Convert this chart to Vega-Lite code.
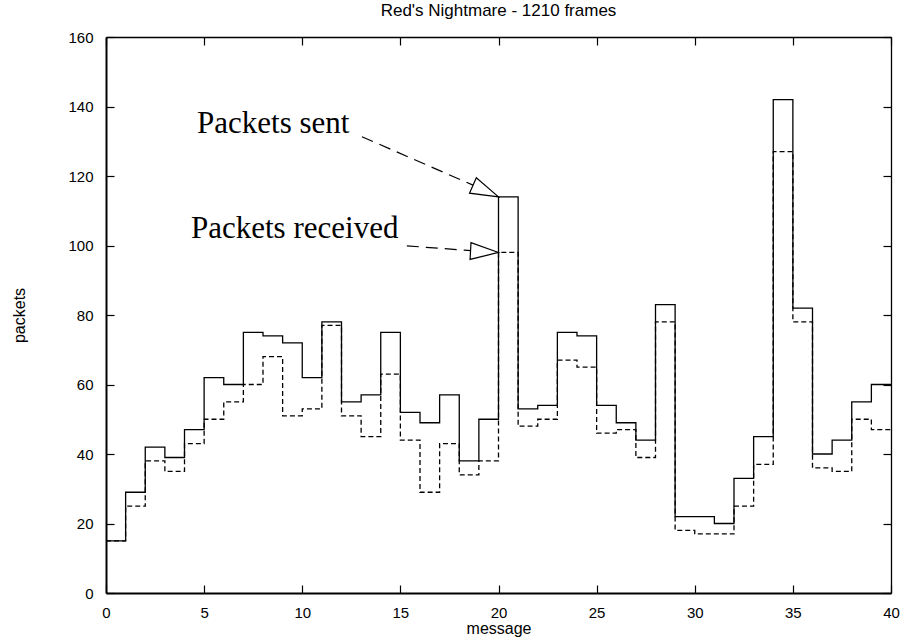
{
  "$schema": "https://vega.github.io/schema/vega-lite/v6.json",
  "width": 785,
  "height": 556,
  "autosize": {"type": "none"},
  "padding": {"left": 106, "top": 37, "right": 14, "bottom": 48},
  "background": "white",
  "title": {"text": "Red's Nightmare - 1210 frames", "font": "Liberation Sans", "fontSize": 17, "fontWeight": "normal", "color": "black", "offset": 10},
  "config": {
    "view": {"stroke": null},
    "axis": {"grid": false, "domainColor": "black", "tickColor": "black", "labelColor": "black", "titleColor": "black", "labelFont": "Liberation Sans", "titleFont": "Liberation Sans", "labelFontSize": 15, "titleFontSize": 16, "titleFontWeight": "normal", "tickSize": -8, "tickWidth": 1.2}
  },
  "datasets": {
    "series": [
      {"message": 0, "packets": 15, "series": "sent"},
      {"message": 1, "packets": 29, "series": "sent"},
      {"message": 2, "packets": 42, "series": "sent"},
      {"message": 3, "packets": 39, "series": "sent"},
      {"message": 4, "packets": 47, "series": "sent"},
      {"message": 5, "packets": 62, "series": "sent"},
      {"message": 6, "packets": 60, "series": "sent"},
      {"message": 7, "packets": 75, "series": "sent"},
      {"message": 8, "packets": 74, "series": "sent"},
      {"message": 9, "packets": 72, "series": "sent"},
      {"message": 10, "packets": 62, "series": "sent"},
      {"message": 11, "packets": 78, "series": "sent"},
      {"message": 12, "packets": 55, "series": "sent"},
      {"message": 13, "packets": 57, "series": "sent"},
      {"message": 14, "packets": 75, "series": "sent"},
      {"message": 15, "packets": 52, "series": "sent"},
      {"message": 16, "packets": 49, "series": "sent"},
      {"message": 17, "packets": 57, "series": "sent"},
      {"message": 18, "packets": 38, "series": "sent"},
      {"message": 19, "packets": 50, "series": "sent"},
      {"message": 20, "packets": 114, "series": "sent"},
      {"message": 21, "packets": 53, "series": "sent"},
      {"message": 22, "packets": 54, "series": "sent"},
      {"message": 23, "packets": 75, "series": "sent"},
      {"message": 24, "packets": 74, "series": "sent"},
      {"message": 25, "packets": 54, "series": "sent"},
      {"message": 26, "packets": 49, "series": "sent"},
      {"message": 27, "packets": 44, "series": "sent"},
      {"message": 28, "packets": 83, "series": "sent"},
      {"message": 29, "packets": 22, "series": "sent"},
      {"message": 30, "packets": 22, "series": "sent"},
      {"message": 31, "packets": 20, "series": "sent"},
      {"message": 32, "packets": 33, "series": "sent"},
      {"message": 33, "packets": 45, "series": "sent"},
      {"message": 34, "packets": 142, "series": "sent"},
      {"message": 35, "packets": 82, "series": "sent"},
      {"message": 36, "packets": 40, "series": "sent"},
      {"message": 37, "packets": 44, "series": "sent"},
      {"message": 38, "packets": 55, "series": "sent"},
      {"message": 39, "packets": 60, "series": "sent"},
      {"message": 40, "packets": 60, "series": "sent"},
      {"message": 0, "packets": 15, "series": "received"},
      {"message": 1, "packets": 25, "series": "received"},
      {"message": 2, "packets": 38, "series": "received"},
      {"message": 3, "packets": 35, "series": "received"},
      {"message": 4, "packets": 43, "series": "received"},
      {"message": 5, "packets": 50, "series": "received"},
      {"message": 6, "packets": 55, "series": "received"},
      {"message": 7, "packets": 60, "series": "received"},
      {"message": 8, "packets": 68, "series": "received"},
      {"message": 9, "packets": 51, "series": "received"},
      {"message": 10, "packets": 53, "series": "received"},
      {"message": 11, "packets": 77, "series": "received"},
      {"message": 12, "packets": 51, "series": "received"},
      {"message": 13, "packets": 45, "series": "received"},
      {"message": 14, "packets": 63, "series": "received"},
      {"message": 15, "packets": 44, "series": "received"},
      {"message": 16, "packets": 29, "series": "received"},
      {"message": 17, "packets": 43, "series": "received"},
      {"message": 18, "packets": 34, "series": "received"},
      {"message": 19, "packets": 38, "series": "received"},
      {"message": 20, "packets": 98, "series": "received"},
      {"message": 21, "packets": 48, "series": "received"},
      {"message": 22, "packets": 50, "series": "received"},
      {"message": 23, "packets": 67, "series": "received"},
      {"message": 24, "packets": 65, "series": "received"},
      {"message": 25, "packets": 46, "series": "received"},
      {"message": 26, "packets": 47, "series": "received"},
      {"message": 27, "packets": 39, "series": "received"},
      {"message": 28, "packets": 78, "series": "received"},
      {"message": 29, "packets": 18, "series": "received"},
      {"message": 30, "packets": 17, "series": "received"},
      {"message": 31, "packets": 17, "series": "received"},
      {"message": 32, "packets": 25, "series": "received"},
      {"message": 33, "packets": 37, "series": "received"},
      {"message": 34, "packets": 127, "series": "received"},
      {"message": 35, "packets": 78, "series": "received"},
      {"message": 36, "packets": 36, "series": "received"},
      {"message": 37, "packets": 35, "series": "received"},
      {"message": 38, "packets": 50, "series": "received"},
      {"message": 39, "packets": 47, "series": "received"},
      {"message": 40, "packets": 47, "series": "received"}
    ],
    "labels": [
      {"message": 4.64, "packets": 132.5, "label": "Packets sent"},
      {"message": 4.33, "packets": 102.1, "label": "Packets received"}
    ],
    "arrows": [
      {"arrow": "sent", "message": 13.04, "packets": 131.3},
      {"arrow": "sent", "message": 18.73, "packets": 117.3},
      {"arrow": "received", "message": 15.33, "packets": 99.9},
      {"arrow": "received", "message": 18.61, "packets": 98.5}
    ],
    "tips": [
      {"arrow": "sent", "message": 20, "packets": 114},
      {"arrow": "received", "message": 20, "packets": 98}
    ]
  },
  "layer": [
    {
      "data": {"name": "series"},
      "transform": [{"filter": "datum.series === 'sent'"}],
      "mark": {"type": "line", "interpolate": "step-after", "color": "black", "strokeWidth": 1.3},
      "encoding": {
        "x": {"field": "message", "type": "quantitative", "scale": {"domain": [0, 40], "nice": false}, "axis": {"orient": "bottom", "values": [0, 5, 10, 15, 20, 25, 30, 35, 40], "title": "message", "domainWidth": 2, "labelPadding": 20, "titlePadding": 0, "labelFlush": false}},
        "y": {"field": "packets", "type": "quantitative", "scale": {"domain": [0, 160], "nice": false}, "axis": {"orient": "left", "values": [0, 20, 40, 60, 80, 100, 120, 140, 160], "title": "packets", "domainWidth": 2, "labelPadding": 21, "titlePadding": 40, "labelFlush": false}}
      }
    },
    {
      "data": {"name": "series"},
      "transform": [{"filter": "datum.series === 'received'"}],
      "mark": {"type": "line", "interpolate": "step-after", "color": "black", "strokeWidth": 1.3, "strokeDash": [5, 3]},
      "encoding": {
        "x": {"field": "message", "type": "quantitative", "axis": {"orient": "top", "values": [0, 5, 10, 15, 20, 25, 30, 35, 40], "labels": false, "title": null, "domainWidth": 1.3}},
        "y": {"field": "packets", "type": "quantitative", "axis": {"orient": "right", "values": [0, 20, 40, 60, 80, 100, 120, 140, 160], "labels": false, "title": null, "domainWidth": 1.3}}
      }
    },
    {
      "data": {"name": "arrows"},
      "mark": {"type": "line", "color": "black", "strokeWidth": 1.2, "strokeDash": [12, 7]},
      "encoding": {
        "x": {"field": "message", "type": "quantitative", "axis": null},
        "y": {"field": "packets", "type": "quantitative", "axis": null},
        "detail": {"field": "arrow"}
      }
    },
    {
      "data": {"name": "tips"},
      "transform": [{"filter": "datum.arrow === 'sent'"}],
      "mark": {"type": "point", "shape": "M0,0L-2,-0.6L-2,0.6Z", "size": 784, "angle": 24, "filled": true, "fill": "white", "stroke": "black", "strokeWidth": 1.2, "opacity": 1},
      "encoding": {
        "x": {"field": "message", "type": "quantitative", "axis": null},
        "y": {"field": "packets", "type": "quantitative", "axis": null}
      }
    },
    {
      "data": {"name": "tips"},
      "transform": [{"filter": "datum.arrow === 'received'"}],
      "mark": {"type": "point", "shape": "M0,0L-2,-0.6L-2,0.6Z", "size": 784, "angle": 3, "filled": true, "fill": "white", "stroke": "black", "strokeWidth": 1.2, "opacity": 1},
      "encoding": {
        "x": {"field": "message", "type": "quantitative", "axis": null},
        "y": {"field": "packets", "type": "quantitative", "axis": null}
      }
    },
    {
      "data": {"name": "labels"},
      "mark": {"type": "text", "font": "Liberation Serif", "fontSize": 31, "align": "left", "baseline": "alphabetic", "color": "black"},
      "encoding": {
        "x": {"field": "message", "type": "quantitative", "axis": null},
        "y": {"field": "packets", "type": "quantitative", "axis": null},
        "text": {"field": "label"}
      }
    }
  ]
}
